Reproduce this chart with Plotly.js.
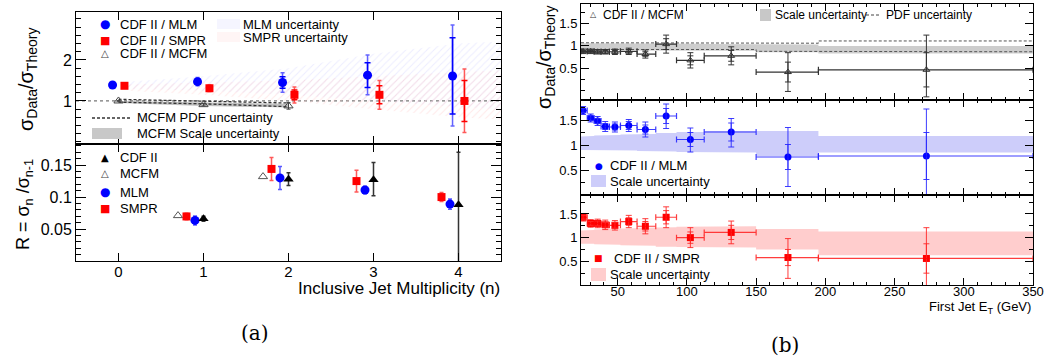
<!DOCTYPE html>
<html><head><meta charset="utf-8">
<script src="https://cdn.plot.ly/plotly-3.0.1.min.js"></script>
<style>html,body{margin:0;padding:0;background:#fff}</style>
</head><body><div id="chart" style="width:1047px;height:363px"></div>
<script>
// ---------- (a) Inclusive jet multiplicity ----------
const nMLM = [0, 1, 2, 3, 4];
const ratioMLM = [1.39, 1.47, 1.45, 1.63, 1.61];
const ratioMLMErrUp = [0.03, 0.10, 0.24, 0.49, 1.24];
const ratioMLMErrDn = [0.03, 0.10, 0.24, 0.48, 1.22];
const ratioMLMStat = [0.02, 0.06, 0.14, 0.30, 0.93];
const nSMPR = [0, 1, 2, 3, 4];
const ratioSMPR = [1.37, 1.31, 1.15, 1.15, 1.00];
const ratioSMPRErrUp = [0.03, 0.08, 0.19, 0.35, 0.78];
const ratioSMPRErrDn = [0.03, 0.08, 0.20, 0.35, 0.77];
const ratioSMPRStat = [0.02, 0.05, 0.12, 0.22, 0.50];
const nMCFM = [0, 1, 2];
const ratioMCFM = [1.00, 0.91, 0.88];
const ratioMCFMErr = [0.01, 0.03, 0.08];
// MCFM PDF and scale uncertainties (n = 0..2)
const mcfmPdfHi = [1.04, 1.00, 0.95];
const mcfmPdfLo = [0.97, 0.93, 0.86];
const mcfmScaleHi = [1.00, 0.96, 0.93];
const mcfmScaleLo = [0.95, 0.88, 0.84];
// MLM / SMPR theory uncertainty bands
const bandN = [0.1, 1, 2, 3, 4, 4.5];
const mlmUncHi = [1.47, 1.60, 1.80, 2.15, 2.40, 2.45];
const mlmUncLo = [1.30, 1.25, 1.15, 1.00, 0.85, 0.80];
const smprUncHi = [1.40, 1.45, 1.50, 1.60, 1.70, 1.75];
const smprUncLo = [1.25, 1.15, 1.00, 0.80, 0.60, 0.55];
// R = sigma_n / sigma_{n-1}
const nR = [1, 2, 3, 4];
const rCDF = [0.066, 0.128, 0.127, 0.088];
const rCDFErrUp = [0.004, 0.010, 0.027, 0.082];
const rCDFErrDn = [0.004, 0.010, 0.025, 0.100];
const nRMCFM = [1, 2];
const rMCFM = [0.071, 0.132];
const rMLM = [0.0635, 0.130, 0.111, 0.089];
const rMLMErr = [0.007, 0.018, 0.006, 0.008];
const rSMPR = [0.0697, 0.144, 0.125, 0.100];
const rSMPRErr = [0.005, 0.018, 0.017, 0.007];

// ---------- (b) First jet ET ----------
const etCenter = [25, 30.5, 35.5, 41, 48, 58, 70, 85, 102.5, 132, 173, 273];
const etLow  = [23.5, 28, 33, 38, 44, 52, 64, 77.5, 92.5, 112.5, 150, 195];
const etHigh = [28, 33, 38, 44, 52, 64, 77.5, 92.5, 112.5, 150, 195, 350];
// CDF II / MCFM
const etMCFM = [0.88, 0.88, 0.87, 0.87, 0.87, 0.88, 0.82, 1.04, 0.68, 0.78, 0.42, 0.47];
const etMCFMErrUp = [0.05, 0.05, 0.05, 0.05, 0.06, 0.07, 0.09, 0.20, 0.17, 0.20, 0.43, 0.77];
const etMCFMErrDn = [0.05, 0.05, 0.05, 0.05, 0.06, 0.07, 0.09, 0.20, 0.17, 0.20, 0.43, 0.60];
const etMCFMStat = [0.02, 0.02, 0.02, 0.03, 0.03, 0.04, 0.05, 0.12, 0.10, 0.12, 0.22, 0.38];
const etMCFMScaleHi = [1.06, 1.06, 1.06, 1.06, 1.06, 1.06, 1.06, 1.05, 1.05, 1.04, 1.03, 1.00];
const etMCFMScaleLo = [0.91, 0.91, 0.91, 0.91, 0.91, 0.91, 0.90, 0.90, 0.90, 0.89, 0.86, 0.83];
const etMCFMPdfHi = [1.07, 1.07, 1.07, 1.07, 1.07, 1.07, 1.07, 1.07, 1.07, 1.07, 1.06, 1.11];
const etMCFMPdfLo = [0.92, 0.92, 0.92, 0.92, 0.92, 0.92, 0.92, 0.92, 0.92, 0.92, 0.88, 0.87];
// CDF II / MLM
const etMLM = [1.69, 1.54, 1.48, 1.37, 1.36, 1.39, 1.31, 1.58, 1.11, 1.26, 0.76, 0.78];
const etMLMErrUp = [0.08, 0.08, 0.09, 0.10, 0.10, 0.12, 0.15, 0.24, 0.23, 0.27, 0.59, 0.94];
const etMLMErrDn = [0.08, 0.08, 0.09, 0.10, 0.10, 0.12, 0.15, 0.25, 0.25, 0.30, 0.59, 0.80];
const etMLMStat = [0.04, 0.05, 0.05, 0.06, 0.06, 0.08, 0.09, 0.15, 0.14, 0.18, 0.25, 0.47];
const etMLMScaleHi = [1.17, 1.18, 1.19, 1.19, 1.20, 1.21, 1.22, 1.24, 1.26, 1.28, 1.28, 1.18];
const etMLMScaleLo = [0.90, 0.90, 0.90, 0.90, 0.90, 0.89, 0.88, 0.87, 0.86, 0.85, 0.78, 0.85];
// CDF II / SMPR
const etSMPR = [1.43, 1.30, 1.30, 1.27, 1.26, 1.34, 1.24, 1.43, 1.00, 1.11, 0.58, 0.56];
const etSMPRErrUp = [0.08, 0.08, 0.09, 0.10, 0.10, 0.13, 0.16, 0.22, 0.21, 0.24, 0.40, 0.65];
const etSMPRErrDn = [0.08, 0.08, 0.09, 0.10, 0.10, 0.13, 0.16, 0.22, 0.21, 0.24, 0.44, 0.60];
const etSMPRStat = [0.04, 0.04, 0.05, 0.05, 0.06, 0.08, 0.10, 0.14, 0.12, 0.15, 0.17, 0.31];
const etSMPRScaleHi = [1.15, 1.16, 1.17, 1.18, 1.19, 1.20, 1.21, 1.22, 1.23, 1.24, 1.18, 1.13];
const etSMPRScaleLo = [0.87, 0.87, 0.86, 0.86, 0.85, 0.84, 0.83, 0.81, 0.80, 0.79, 0.75, 0.63];

// ---------- helpers ----------
const W = 1047, H = 363;
const PX = p => p / W, PY = p => 1 - p / H;
const BLUE = '#0000ff', RED = '#ff0000';
const FONT = 'Liberation Sans, Arial, sans-serif';
const shift = (arr, d) => arr.map(v => v + d);
const diff = (a, b) => a.map((v, i) => v - b[i]);

function bandPoly(xs, hi, lo) {
  return {x: xs.concat(xs.slice().reverse()), y: hi.concat(lo.slice().reverse())};
}
function stepPath(lo, hi, vals) {
  const x = [], y = [];
  lo.forEach((l, i) => { x.push(l, hi[i]); y.push(vals[i], vals[i]); });
  return {x, y};
}
function stepBand(lo, hi, up, dn) {
  const u = stepPath(lo, hi, up), d = stepPath(lo, hi, dn);
  return {x: u.x.concat(d.x.slice().reverse()), y: u.y.concat(d.y.slice().reverse())};
}

const traces = [];
const OFF = {mlm: -0.07, smpr: 0.07, rSmpr: -0.2, rMlm: -0.1, rMcfm: -0.3};

// (a) top panel: hatched bands
let p = bandPoly(bandN, mlmUncHi, mlmUncLo);
traces.push({x: p.x, y: p.y, xaxis: 'x', yaxis: 'y', mode: 'lines', fill: 'toself',
  line: {width: 0}, fillcolor: 'rgba(0,0,0,0)',
  fillpattern: {shape: '/', fgcolor: 'rgb(215,215,255)', bgcolor: 'rgba(0,0,0,0)', size: 5, solidity: 0.2, fgopacity: 0.45},
  hoverinfo: 'skip', showlegend: false});
p = bandPoly(bandN, smprUncHi, smprUncLo);
traces.push({x: p.x, y: p.y, xaxis: 'x', yaxis: 'y', mode: 'lines', fill: 'toself',
  line: {width: 0}, fillcolor: 'rgba(0,0,0,0)',
  fillpattern: {shape: '/', fgcolor: 'rgb(255,205,205)', bgcolor: 'rgba(0,0,0,0)', size: 5, solidity: 0.2, fgopacity: 0.45},
  hoverinfo: 'skip', showlegend: false});
p = bandPoly(nMCFM, mcfmScaleHi, mcfmScaleLo);
traces.push({x: p.x, y: p.y, xaxis: 'x', yaxis: 'y', mode: 'lines', fill: 'toself',
  line: {width: 0}, fillcolor: 'rgba(150,150,150,0.6)', hoverinfo: 'skip', showlegend: false});
[mcfmPdfHi, mcfmPdfLo].forEach(arr => traces.push({x: nMCFM, y: arr, xaxis: 'x', yaxis: 'y', mode: 'lines',
  line: {color: '#333', width: 1.3, dash: '3px,2px'}, hoverinfo: 'skip', showlegend: false}));
// MCFM triangles
traces.push({x: nMCFM, y: ratioMCFM, xaxis: 'x', yaxis: 'y', mode: 'markers',
  marker: {symbol: 'triangle-up-open', size: 8, color: '#444', line: {width: 1}},
  error_y: {type: 'data', array: ratioMCFMErr, color: '#444', thickness: 1, width: 2}, showlegend: false});
// MLM
traces.push({x: shift(nMLM, OFF.mlm), y: ratioMLM, xaxis: 'x', yaxis: 'y', mode: 'markers',
  marker: {symbol: 'circle', size: 9, color: BLUE},
  error_y: {type: 'data', symmetric: false, array: ratioMLMErrUp, arrayminus: ratioMLMErrDn, color: 'rgba(60,60,255,0.8)', thickness: 1.5, width: 2},
  showlegend: false});
traces.push({x: shift(nMLM, OFF.mlm), y: ratioMLM, xaxis: 'x', yaxis: 'y', mode: 'markers',
  marker: {size: 1, color: BLUE}, error_y: {type: 'data', array: ratioMLMStat, color: BLUE, thickness: 1.5, width: 3}, showlegend: false});
// SMPR
traces.push({x: shift(nSMPR, OFF.smpr), y: ratioSMPR, xaxis: 'x', yaxis: 'y', mode: 'markers',
  marker: {symbol: 'square', size: 8, color: RED},
  error_y: {type: 'data', symmetric: false, array: ratioSMPRErrUp, arrayminus: ratioSMPRErrDn, color: 'rgba(255,60,60,0.85)', thickness: 1.5, width: 2},
  showlegend: false});
traces.push({x: shift(nSMPR, OFF.smpr), y: ratioSMPR, xaxis: 'x', yaxis: 'y', mode: 'markers',
  marker: {size: 1, color: RED}, error_y: {type: 'data', array: ratioSMPRStat, color: RED, thickness: 1.5, width: 3}, showlegend: false});

// (a) bottom panel
traces.push({x: shift(nRMCFM, OFF.rMcfm), y: rMCFM, xaxis: 'x2', yaxis: 'y2', mode: 'markers',
  marker: {symbol: 'triangle-up-open', size: 8, color: '#555', line: {width: 1}}, showlegend: false});
traces.push({x: shift(nR, OFF.rSmpr), y: rSMPR, xaxis: 'x2', yaxis: 'y2', mode: 'markers',
  marker: {symbol: 'square', size: 8, color: RED},
  error_y: {type: 'data', array: rSMPRErr, color: 'rgba(255,60,60,0.85)', thickness: 1.5, width: 2}, showlegend: false});
traces.push({x: shift(nR, OFF.rMlm), y: rMLM, xaxis: 'x2', yaxis: 'y2', mode: 'markers',
  marker: {symbol: 'circle', size: 9, color: BLUE},
  error_y: {type: 'data', array: rMLMErr, color: 'rgba(60,60,255,0.85)', thickness: 1.5, width: 2}, showlegend: false});
traces.push({x: nR, y: rCDF, xaxis: 'x2', yaxis: 'y2', mode: 'markers',
  marker: {symbol: 'triangle-up', size: 9, color: '#000'},
  error_y: {type: 'data', symmetric: false, array: rCDFErrUp, arrayminus: rCDFErrDn, color: '#333', thickness: 1.5, width: 2}, showlegend: false});

// (b) panels
const ex = diff(etHigh, etCenter), exm = diff(etCenter, etLow);
function etPanel(ax, ay, vals, up, dn, stat, bandHi, bandLo, bandColor, sym, color, ebColor, size) {
  const b = stepBand(etLow, etHigh, bandHi, bandLo);
  traces.push({x: b.x, y: b.y, xaxis: ax, yaxis: ay, mode: 'lines', fill: 'toself',
    line: {width: 0}, fillcolor: bandColor, hoverinfo: 'skip', showlegend: false});
  return () => {
    traces.push({x: etCenter, y: vals, xaxis: ax, yaxis: ay, mode: 'markers',
      marker: {symbol: sym, size: size, color: color, line: {width: sym.includes('open') ? 1 : 0, color: color}},
      error_y: {type: 'data', symmetric: false, array: up, arrayminus: dn, color: ebColor, thickness: 1, width: 3},
      error_x: {type: 'data', symmetric: false, array: ex, arrayminus: exm, color: ebColor, thickness: 1.2, width: 3},
      showlegend: false});
    traces.push({x: etCenter, y: vals, xaxis: ax, yaxis: ay, mode: 'markers', marker: {size: 1, color: color},
      error_y: {type: 'data', array: stat, color: ebColor, thickness: 1, width: 3}, showlegend: false});
  };
}
const drawMCFM = etPanel('x3', 'y3', etMCFM, etMCFMErrUp, etMCFMErrDn, etMCFMStat, etMCFMScaleHi, etMCFMScaleLo,
  'rgba(200,200,200,0.9)', 'triangle-up-open', '#333', '#333', 6);
[etMCFMPdfHi, etMCFMPdfLo].forEach(arr => {
  const s = stepPath(etLow, etHigh, arr);
  traces.push({x: s.x, y: s.y, xaxis: 'x3', yaxis: 'y3', mode: 'lines',
    line: {color: '#555', width: 1, dash: '3px,2px'}, hoverinfo: 'skip', showlegend: false});
});
drawMCFM();
etPanel('x4', 'y4', etMLM, etMLMErrUp, etMLMErrDn, etMLMStat, etMLMScaleHi, etMLMScaleLo,
  'rgba(205,205,250,1)', 'circle', BLUE, 'rgba(40,40,255,0.9)', 7)();
etPanel('x5', 'y5', etSMPR, etSMPRErrUp, etSMPRErrDn, etSMPRStat, etSMPRScaleHi, etSMPRScaleLo,
  'rgba(255,205,205,1)', 'square', RED, 'rgba(255,40,40,0.9)', 7)();

// ---------- axes ----------
const baseAx = {showline: true, linecolor: '#000', linewidth: 1, mirror: 'ticks', ticks: 'inside',
  showgrid: false, zeroline: false, tickcolor: '#000', tickfont: {family: FONT, size: 16, color: '#000'}};
const xa = {...baseAx, domain: [PX(76), PX(501)], range: [-0.5, 4.5], tickvals: [0, 1, 2, 3, 4], ticklen: 8};
const xb = {...baseAx, domain: [PX(581), PX(1033)], range: [23.5, 350], tick0: 0, dtick: 50, ticklen: 7,
  minor: {ticks: 'inside', ticklen: 3, dtick: 10, tick0: 0, tickcolor: '#000'}, tickfont: {family: FONT, size: 13, color: '#000'}};
const yb = (dom, rng) => ({...baseAx, domain: dom, range: rng, tickvals: [0.5, 1, 1.5], ticktext: ['0.5', '1', '1.5'],
  ticklen: 8, minor: {ticks: 'inside', ticklen: 4, dtick: 0.25, tick0: 0, tickcolor: '#000'},
  tickfont: {family: FONT, size: 13, color: '#000'}});

const layout = {
  width: W, height: H, margin: {l: 0, r: 0, t: 0, b: 0}, paper_bgcolor: '#fff', plot_bgcolor: '#fff',
  showlegend: false, font: {family: FONT, color: '#000'},
  xaxis: {...xa, anchor: 'y', showticklabels: false},
  yaxis: {...baseAx, anchor: 'x', domain: [PY(144), PY(12)], range: [-0.05, 3.17], tickvals: [1, 2], ticklen: 10,
    minor: {ticks: 'inside', ticklen: 5, dtick: 0.2, tick0: 0, tickcolor: '#000'}},
  xaxis2: {...xa, anchor: 'y2', ticklabelstandoff: -3, tickfont: {family: FONT, size: 15, color: '#000'}},
  yaxis2: {...baseAx, anchor: 'x2', domain: [PY(261), PY(144)], range: [0, 0.183], tickvals: [0.05, 0.1, 0.15],
    ticktext: ['0.05', '0.1', '0.15'], ticklen: 10, minor: {ticks: 'inside', ticklen: 5, dtick: 0.01, tick0: 0, tickcolor: '#000'}},
  xaxis3: {...xb, anchor: 'y3', showticklabels: false},
  yaxis3: {...yb([PY(100), PY(4)], [-0.2, 1.93]), anchor: 'x3'},
  xaxis4: {...xb, anchor: 'y4', showticklabels: false},
  yaxis4: {...yb([PY(195), PY(100)], [0, 1.9]), anchor: 'x4'},
  xaxis5: {...xb, anchor: 'y5', ticklabelstandoff: -6},
  yaxis5: {...yb([PY(285), PY(195)], [0, 1.9]), anchor: 'x5'},
  shapes: [
    {type: 'line', xref: 'x domain', yref: 'y', x0: 0, x1: 1, y0: 1, y1: 1, line: {color: '#777', width: 1.3, dash: 'dot'}, layer: 'below'},
    // legend swatches
    {type: 'rect', xref: 'paper', yref: 'paper', x0: PX(217), x1: PX(240), y0: PY(29), y1: PY(19), fillcolor: 'rgba(200,200,255,0.18)', line: {width: 0}},
    {type: 'rect', xref: 'paper', yref: 'paper', x0: PX(217), x1: PX(240), y0: PY(42), y1: PY(32), fillcolor: 'rgba(255,200,200,0.18)', line: {width: 0}},
    {type: 'line', xref: 'paper', yref: 'paper', x0: PX(92), x1: PX(130), y0: PY(118), y1: PY(118), line: {color: '#333', width: 1.3, dash: '3px,2px'}},
    {type: 'rect', xref: 'paper', yref: 'paper', x0: PX(92), x1: PX(122), y0: PY(139), y1: PY(128), fillcolor: '#c8c8c8', line: {width: 0}},
    {type: 'rect', xref: 'paper', yref: 'paper', x0: PX(760), x1: PX(771), y0: PY(21), y1: PY(9), fillcolor: '#c8c8c8', line: {width: 0}},
    {type: 'line', xref: 'paper', yref: 'paper', x0: PX(866), x1: PX(881), y0: PY(15), y1: PY(15), line: {color: '#444', width: 1, dash: '3px,2px'}},
    {type: 'rect', xref: 'paper', yref: 'paper', x0: PX(591), x1: PX(606), y0: PY(187), y1: PY(175), fillcolor: 'rgb(205,205,250)', line: {width: 0}},
    {type: 'rect', xref: 'paper', yref: 'paper', x0: PX(591), x1: PX(606), y0: PY(281), y1: PY(268), fillcolor: 'rgb(255,205,205)', line: {width: 0}}
  ],
  annotations: []
};

function ann(text, x, y, opt = {}) {
  layout.annotations.push(Object.assign({text, x: PX(x), y: PY(y), xref: 'paper', yref: 'paper', showarrow: false,
    xanchor: 'left', yanchor: 'middle', font: {family: FONT, size: 13, color: '#000'}}, opt));
}
const sym = (t, x, y, c, s) => ann(t, x, y, {xanchor: 'center', font: {family: 'DejaVu Sans', size: s, color: c}});
// (a) legends
sym('●', 105, 24, BLUE, 12); ann('CDF II / MLM', 118, 24);
sym('■', 105, 40, RED, 11); ann('CDF II / SMPR', 118, 40);
sym('△', 105, 53, '#444', 10); ann('CDF II / MCFM', 118, 53);
ann('MLM uncertainty', 241, 24); ann('SMPR uncertainty', 241, 37);
ann('MCFM PDF uncertainty', 135, 118); ann('MCFM Scale uncertainty', 135, 133);
sym('▲', 105, 157, '#000', 10); ann('CDF II', 118, 157);
sym('△', 105, 174, '#444', 10); ann('MCFM', 118, 174);
sym('●', 105, 192, BLUE, 12); ann('MLM', 118, 192);
sym('■', 105, 208, RED, 11); ann('SMPR', 118, 208);
// (b) legends
sym('△', 593, 15, '#333', 8); ann('CDF II / MCFM', 601, 15, {font: {family: FONT, size: 12, color: '#000'}});
ann('Scale uncertainty', 773, 15, {font: {family: FONT, size: 12, color: '#000'}});
ann('PDF uncertainty', 884, 15, {font: {family: FONT, size: 12, color: '#000'}});
sym('●', 599, 166, BLUE, 9); ann('CDF II / MLM', 608, 166, {font: {family: FONT, size: 13, color: '#000'}});
ann('Scale uncertainty', 608, 181, {font: {family: FONT, size: 13, color: '#000'}});
sym('■', 598, 258, RED, 9); ann('CDF II / SMPR', 612, 258, {font: {family: FONT, size: 13, color: '#000'}});
ann('Scale uncertainty', 608, 274, {font: {family: FONT, size: 13, color: '#000'}});
// axis titles
ann('σ<sub>Data</sub>/σ<sub>Theory</sub>', 27, 80, {xanchor: 'center', textangle: -90, font: {family: FONT, size: 20, color: '#000'}});
ann('R = σ<sub>n</sub> /σ<sub>n-1</sub>', 24, 205, {xanchor: 'center', textangle: -90, font: {family: FONT, size: 18, color: '#000'}});
ann('Inclusive Jet Multiplicity (n)', 502, 288, {xanchor: 'right', font: {family: FONT, size: 17, color: '#000'}});
ann('σ<sub>Data</sub>/σ<sub>Theory</sub>', 545, 58, {xanchor: 'center', textangle: -90, font: {family: FONT, size: 20, color: '#000'}});
ann('First Jet E<sub>T</sub> (GeV)', 1033, 307, {xanchor: 'right', font: {family: FONT, size: 13, color: '#000'}});
ann('(a)', 255, 333, {xanchor: 'center', font: {family: 'DejaVu Serif, Liberation Serif, serif', size: 20, color: '#000'}});
ann('(b)', 785, 345, {xanchor: 'center', font: {family: 'DejaVu Serif, Liberation Serif, serif', size: 20, color: '#000'}});

Plotly.newPlot('chart', traces, layout, {staticPlot: true});
</script></body></html>
